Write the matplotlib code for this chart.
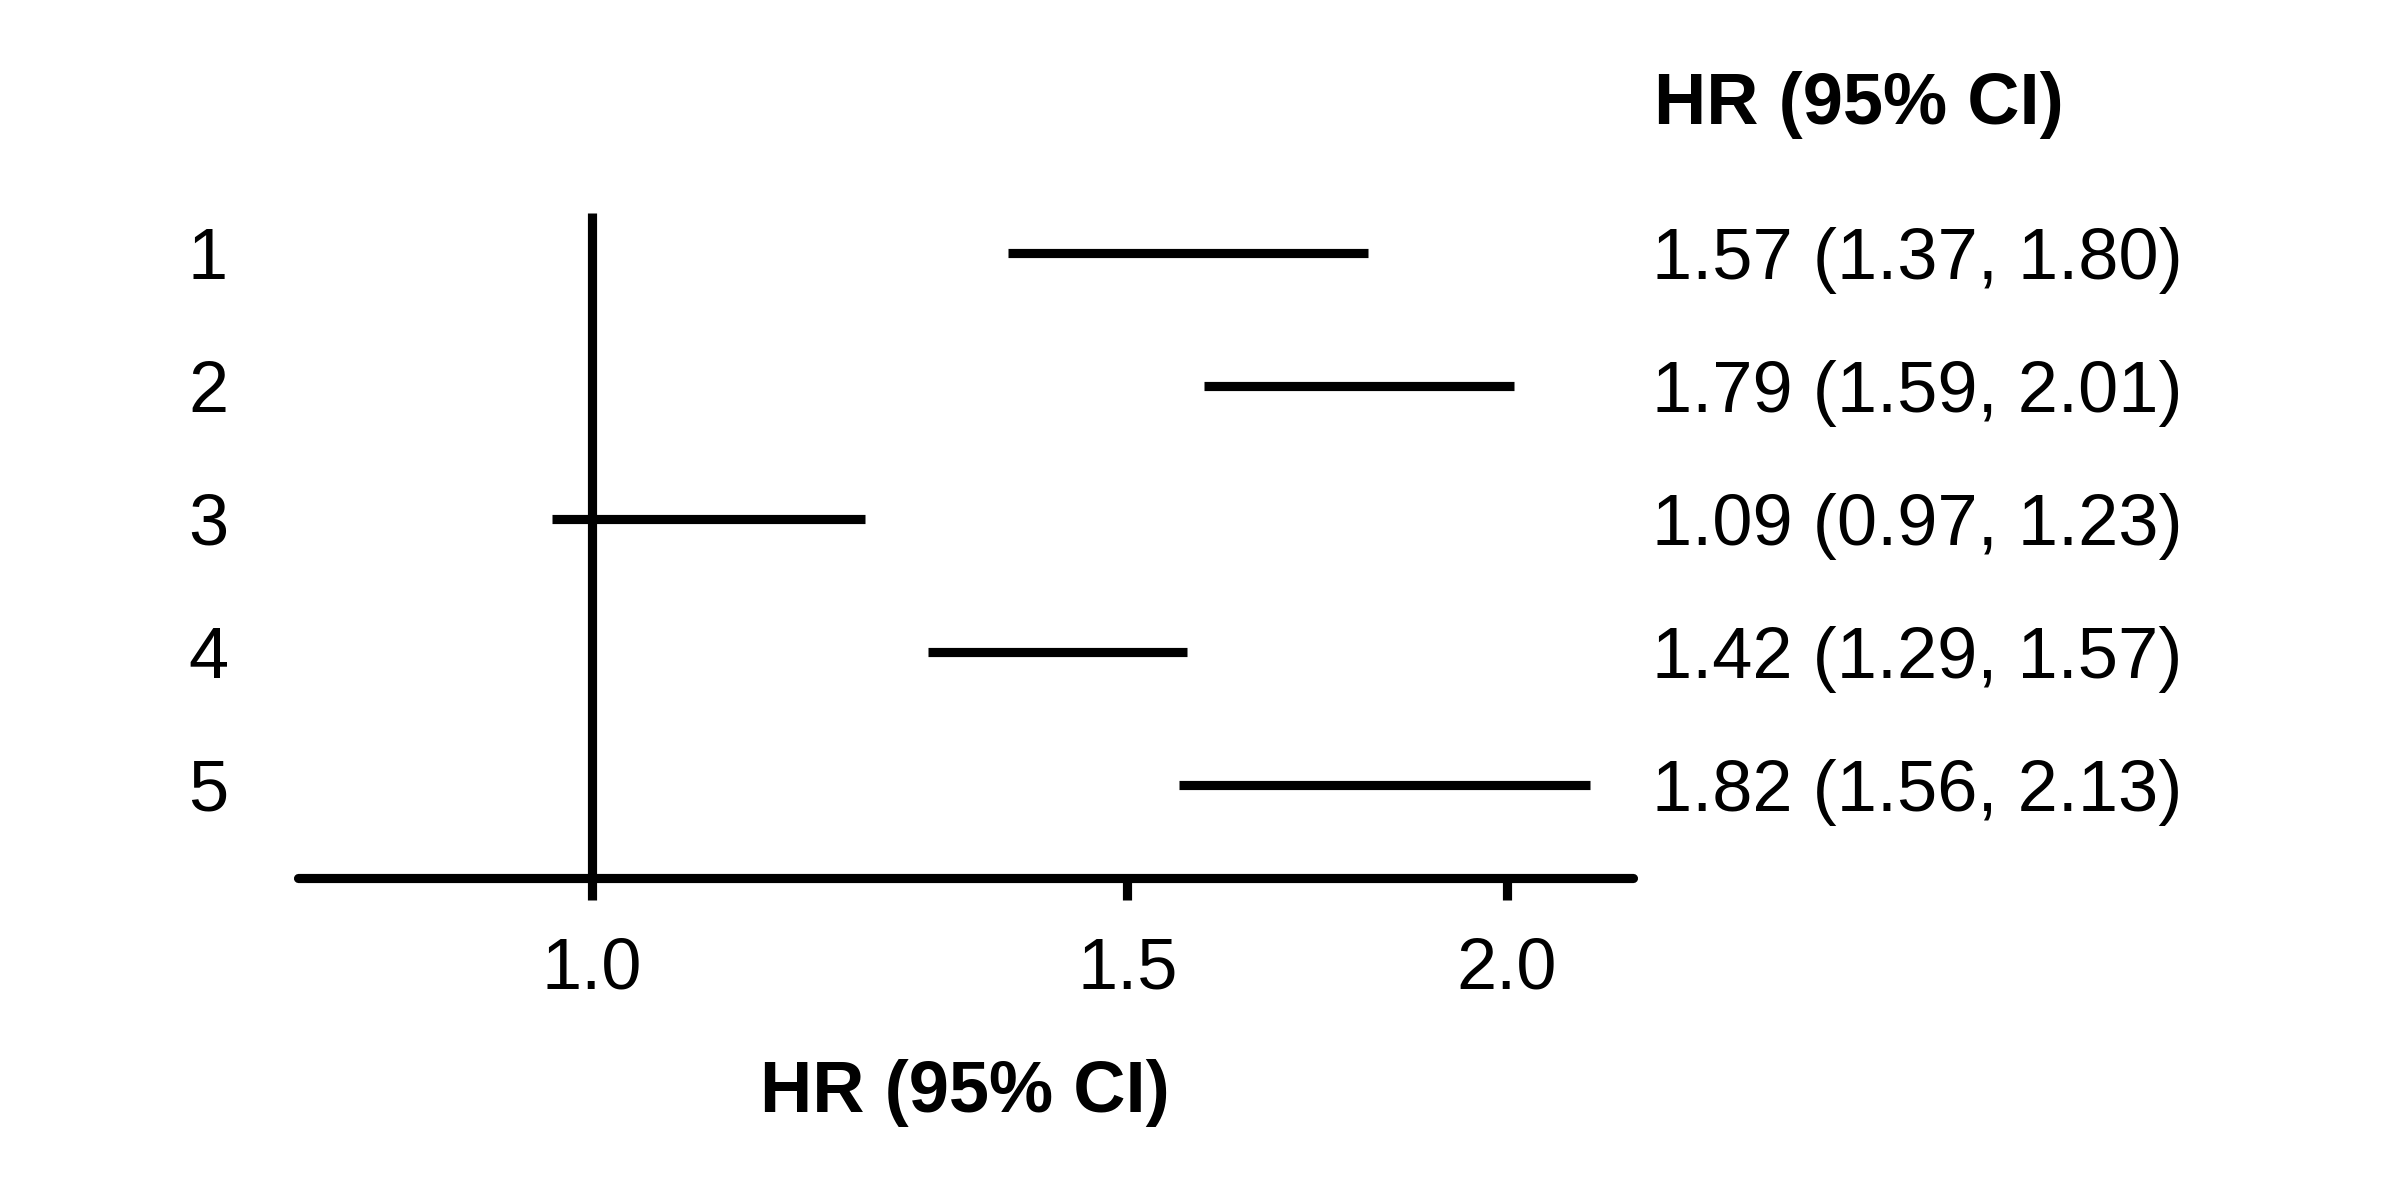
import matplotlib
matplotlib.use("Agg")
import matplotlib.pyplot as plt
from matplotlib.transforms import blended_transform_factory

# data
rows = ['1', '2', '3', '4', '5']
hr = [1.57, 1.79, 1.09, 1.42, 1.82]
lower = [1.37, 1.59, 0.97, 1.29, 1.56]
upper = [1.80, 2.01, 1.23, 1.57, 2.13]
xticks = [1.0, 1.5, 2.0]
xtick_labels = ['1.0', '1.5', '2.0']

font = 'Liberation Sans'
fs = 26
lw = 3.3

fig = plt.figure(figsize=(12, 6), dpi=200)
ax = fig.add_axes([297.5 / 2400, 1 - 878 / 1200, (1632.8 - 297.5) / 2400, 824.6 / 1200])

ypos = [5 - i for i in range(len(rows))]

# reference line at HR = 1
ax.plot([1, 1], [0.3, 5.3], color='black', lw=lw, solid_capstyle='butt')

# confidence intervals
for y, lo, hi in zip(ypos, lower, upper):
    ax.plot([lo, hi], [y, y], color='black', lw=lw, solid_capstyle='butt')

ax.set_xscale('log')
ax.set_xlim(0.8, 2.2)
ax.set_ylim(0.3, 6.5)
ax.set_xticks(xticks)
ax.set_xticklabels(xtick_labels, fontfamily=font, fontsize=fs)
ax.minorticks_off()
ax.tick_params(axis='x', length=8, width=lw, pad=13)
ax.set_yticks([])
for s in ['top', 'right', 'left']:
    ax.spines[s].set_visible(False)
ax.spines['bottom'].set_linewidth(lw)
ax.spines['bottom'].set_capstyle('round')

trans = blended_transform_factory(fig.transFigure, ax.transData)
for y, lab, h, lo, hi in zip(ypos, rows, hr, lower, upper):
    ax.text(208 / 2400, y - 0.195, lab, transform=trans, ha='center', va='baseline',
            fontfamily=font, fontsize=fs, clip_on=False)
    ax.text(1652 / 2400, y - 0.195, f'{h:.2f} ({lo:.2f}, {hi:.2f})', transform=trans,
            ha='left', va='baseline', fontfamily=font, fontsize=fs, clip_on=False)

fig.text(1654 / 2400, 1 - 124 / 1200, 'HR (95% CI)', ha='left', va='baseline',
         fontfamily=font, fontweight='bold', fontsize=fs)
fig.text(965 / 2400, 1 - 1112 / 1200, 'HR (95% CI)', ha='center', va='baseline',
         fontfamily=font, fontweight='bold', fontsize=fs)

fig.savefig('out.png', dpi=200, facecolor='white')
